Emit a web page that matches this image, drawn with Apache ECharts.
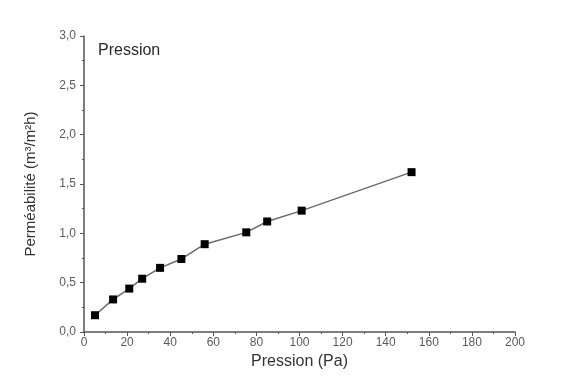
<!DOCTYPE html>
<html><head><meta charset="utf-8">
<script src="https://cdn.jsdelivr.net/npm/echarts@6/dist/echarts.min.js"></script>
<style>html,body{margin:0;padding:0;background:#fff}#c{width:570px;height:392px}</style>
</head><body><div id="c"></div>
<script>
const pression = [5.1, 13.5, 21.0, 27.0, 35.3, 45.2, 56.0, 75.3, 85.0, 101.0, 152.0];
const permeabilite = [0.17, 0.33, 0.44, 0.54, 0.65, 0.74, 0.89, 1.01, 1.12, 1.23, 1.62];
const xTitle = 'Pression (Pa)';
const yTitle = 'Perméabilité (m³/m²h)';
const legendText = 'Pression';

const chart = echarts.init(document.getElementById('c'));
const axisCol = '#555';
const fmt = v => v.toFixed(1).replace('.', ',');
chart.setOption({
  animation: false,
  grid: {left: 84, right: 55, top: 36, bottom: 60},
  graphic: [{type: 'text', left: 98, top: 43, style: {text: legendText, font: '16px "Liberation Sans", Arial, sans-serif', fill: '#2a2a2a'}}],
  xAxis: {
    type: 'value', min: 0, max: 200, interval: 20,
    name: xTitle, nameLocation: 'middle', nameGap: 19,
    nameTextStyle: {color: '#333', fontSize: 16, fontFamily: 'Liberation Sans'},
    axisLine: {show: true, lineStyle: {color: axisCol, width: 1.5}},
    axisTick: {show: true, inside: false, length: 4, lineStyle: {color: axisCol}},
    minorTick: {show: true, splitNumber: 2, length: 2, lineStyle: {color: axisCol}},
    axisLabel: {color: '#5a5a5a', fontSize: 12, margin: 5, fontFamily: 'Liberation Sans'},
    splitLine: {show: false}
  },
  yAxis: {
    type: 'value', min: 0, max: 3, interval: 0.5,
    name: yTitle, nameLocation: 'middle', nameGap: 46, nameRotate: 90,
    nameTextStyle: {color: '#333', fontSize: 15, fontFamily: 'Liberation Sans'},
    axisLine: {show: true, lineStyle: {color: axisCol, width: 1.5}},
    axisTick: {show: true, inside: false, length: 4, lineStyle: {color: axisCol}},
    minorTick: {show: true, splitNumber: 2, length: 2, lineStyle: {color: axisCol}},
    axisLabel: {color: '#5a5a5a', fontSize: 12, margin: 8, formatter: fmt, fontFamily: 'Liberation Sans'},
    splitLine: {show: false}
  },
  series: [{
    type: 'line',
    data: pression.map((x, i) => [x, permeabilite[i]]),
    symbol: 'rect', symbolSize: 8,
    itemStyle: {color: '#000'},
    lineStyle: {color: '#6a6a6a', width: 1.5}
  }]
});
</script></body></html>
